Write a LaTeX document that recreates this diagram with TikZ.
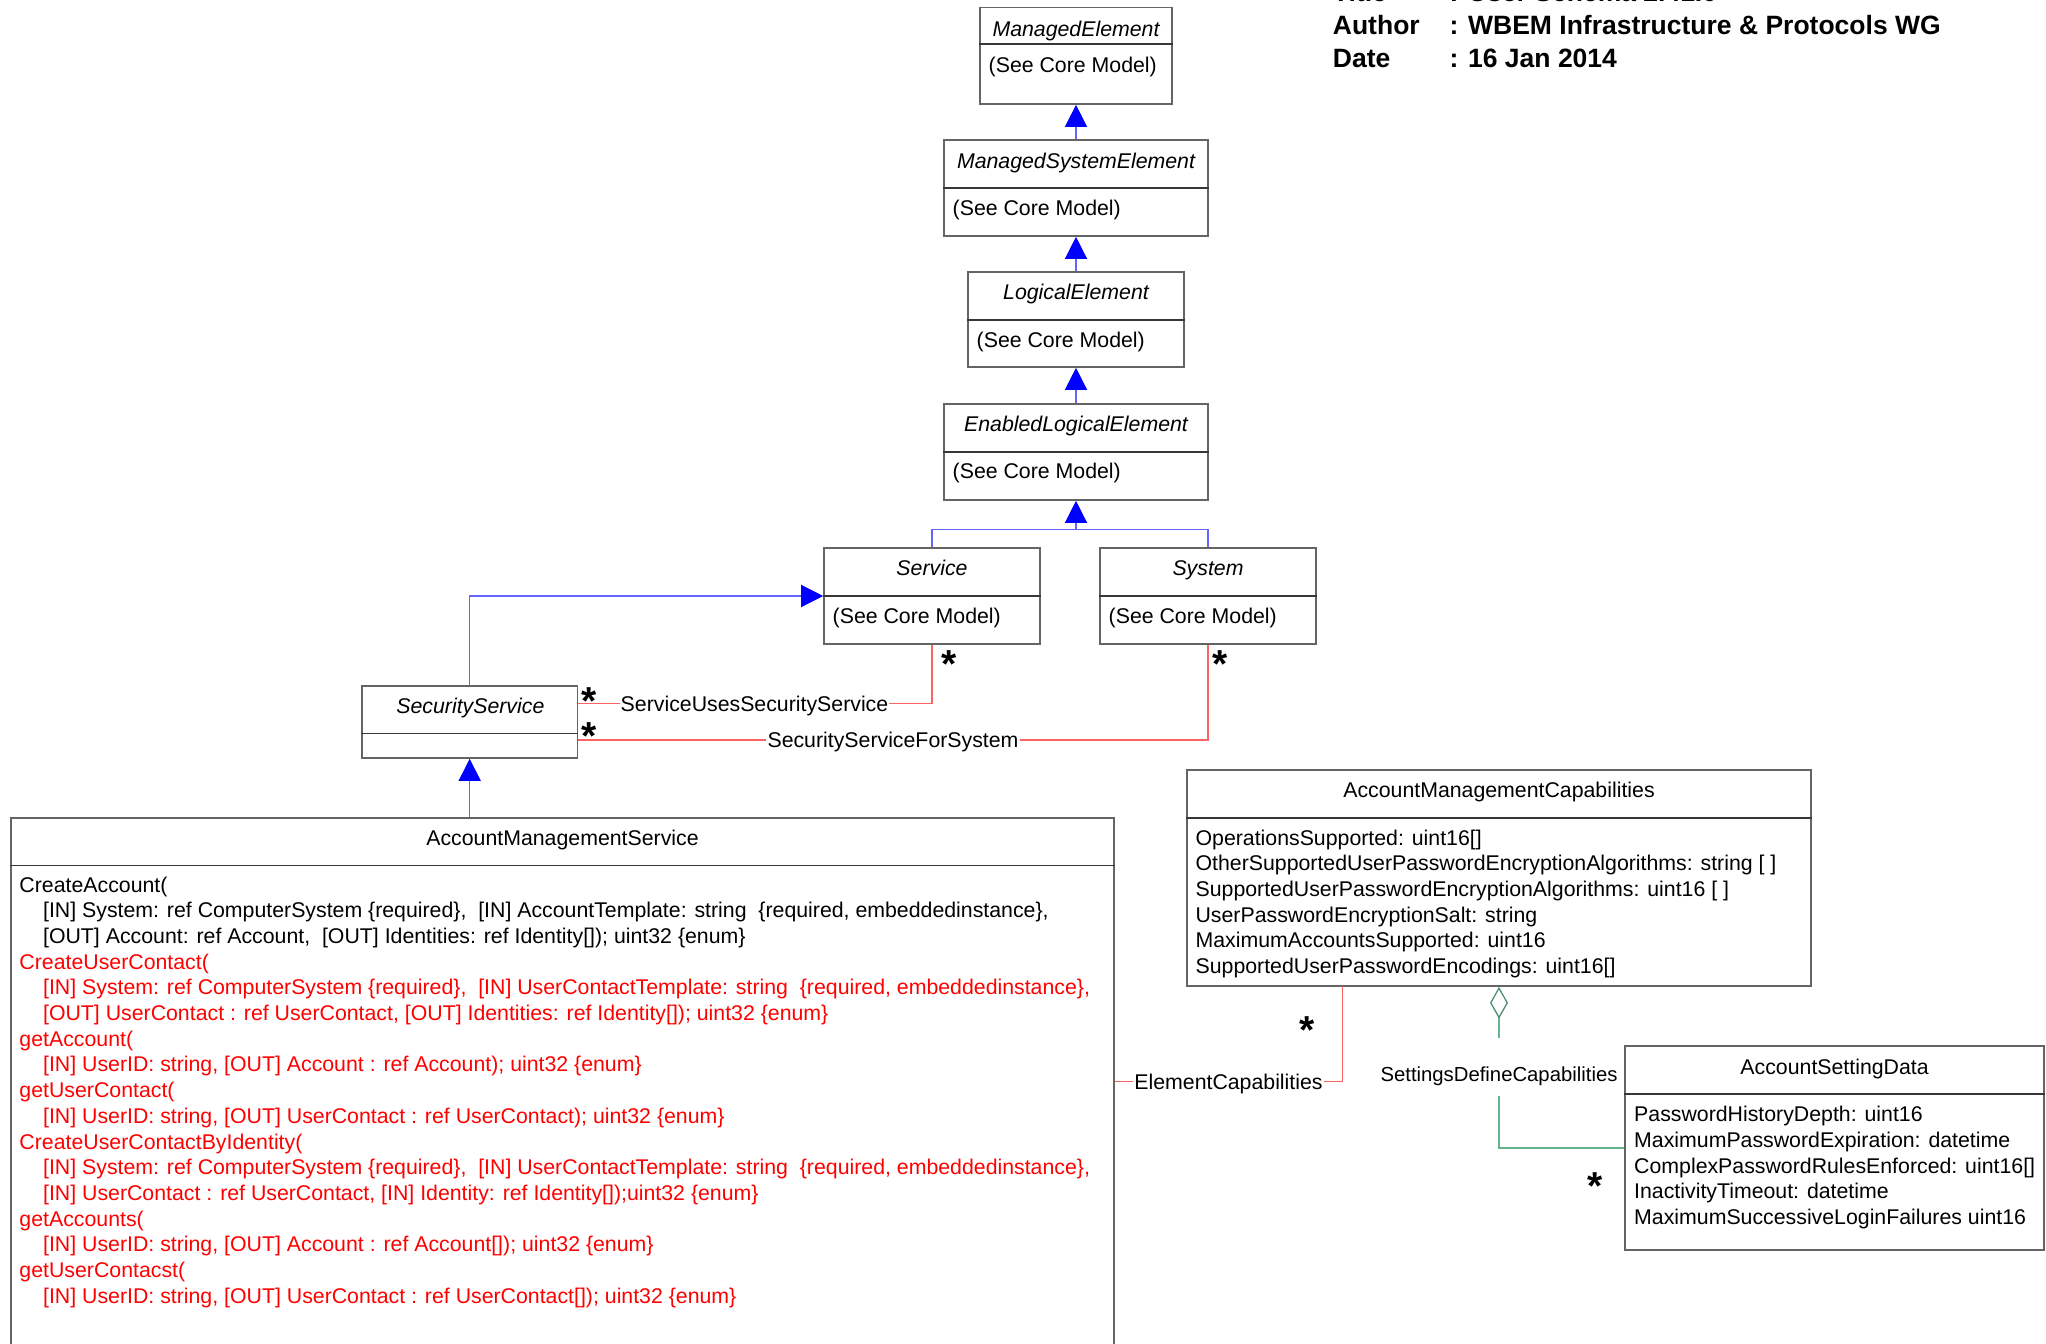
\documentclass[tikz,border=0pt]{standalone}
\usepackage{fontspec}
\setmainfont{Liberation Sans}
\usetikzlibrary{arrows.meta}

\definecolor{boxgray}{RGB}{100,100,100}
\definecolor{divgray}{RGB}{55,55,55}
\definecolor{inhblue}{RGB}{100,100,255}
\definecolor{assocred}{RGB}{250,100,100}
\definecolor{aggrgreen}{RGB}{100,180,140}

\tikzset{
  cls/.style={draw=boxgray, line width=1.6pt, inner sep=0pt},
  divline/.style={draw=divgray, line width=1.6pt},
  txt/.style={inner sep=0pt, font=\fontsize{21.3}{25.7}\selectfont, text height=15pt, text depth=0pt},
  ttl/.style={txt, font=\itshape\fontsize{21.3}{25.7}\selectfont},
  mbr/.style={txt, anchor=west},
  redmbr/.style={mbr, text=red},
  lbl/.style={txt, inner xsep=1pt},
  inhline/.style={draw=inhblue, line width=1.3pt},
  inh/.style={inhline, -{Triangle[length=22pt,width=22pt,color=blue]}},
  assoc/.style={draw=assocred, line width=1.3pt},
  aggr/.style={draw=aggrgreen, line width=1.3pt},
  mult/.style={inner sep=0pt, anchor=base, font=\bfseries\fontsize{39}{39}\selectfont},
  hdr/.style={inner sep=0pt, anchor=base west, font=\bfseries\fontsize{26.5}{32}\selectfont}
}

\begin{document}
\begin{tikzpicture}[x=1pt,y=-1pt]
\fill[white] (0,0) rectangle (2046,1344);
\useasboundingbox (0,0) rectangle (2046,1344);

\node[hdr] (ttlkey) at (1332.7,1.7) {Title};
\node[hdr] (ttlval) at (1449.3,1.7) {: User Schema 2.41.0};
\node[hdr] (autkey) at (1332.7,34.2) {Author};
\node[hdr] (autval) at (1449.3,34.2) {: WBEM Infrastructure \& Protocols WG};
\node[hdr] (datkey) at (1332.7,67) {Date};
\node[hdr] (datval) at (1449.3,67) {: 16 Jan 2014};

\node[cls, minimum width=192pt, minimum height=96.7pt] (me) at (1076,55.7) {};
\draw[divline] (me.west |- 0,43.7) -- (me.east |- 0,43.7);
\node[ttl] (metitle) at (1076,29) {ManagedElement};
\node[mbr] (mebody) at (988.5,65) {(See Core Model)};

\node[cls, minimum width=264pt, minimum height=96pt] (mse) at (1076,188) {};
\draw[divline] (mse.west |- 0,188) -- (mse.east |- 0,188);
\node[ttl] (msetitle) at (1076,161) {ManagedSystemElement};
\node[mbr] (msebody) at (952.5,208) {(See Core Model)};

\node[cls, minimum width=216pt, minimum height=95pt] (le) at (1076,319.5) {};
\draw[divline] (le.west |- 0,320) -- (le.east |- 0,320);
\node[ttl] (letitle) at (1076,292.3) {LogicalElement};
\node[mbr] (lebody) at (976.5,340) {(See Core Model)};

\node[cls, minimum width=264pt, minimum height=96pt] (ele) at (1076,452) {};
\draw[divline] (ele.west |- 0,451.7) -- (ele.east |- 0,451.7);
\node[ttl] (eletitle) at (1076,423.5) {EnabledLogicalElement};
\node[mbr] (elebody) at (952.5,471) {(See Core Model)};

\node[cls, minimum width=216pt, minimum height=96pt] (svc) at (932,596) {};
\draw[divline] (svc.west) -- (svc.east);
\node[ttl] (svctitle) at (932,568) {Service};
\node[mbr] (svcbody) at (832.5,616) {(See Core Model)};

\node[cls, minimum width=216pt, minimum height=96pt] (sys) at (1208,596) {};
\draw[divline] (sys.west) -- (sys.east);
\node[ttl] (systitle) at (1208,568) {System};
\node[mbr] (sysbody) at (1108.5,616) {(See Core Model)};

\node[cls, minimum width=215.7pt, minimum height=72pt] (secsvc) at (469.7,722) {};
\draw[divline] (secsvc.west |- 0,733.5) -- (secsvc.east |- 0,733.5);
\node[ttl] (secsvctitle) at (470.4,706) {SecurityService};

\node[cls, minimum width=1103pt, minimum height=582pt] (ams) at (562.5,1109) {};
\draw[divline] (ams.west |- 0,865.3) -- (ams.east |- 0,865.3);
\node[txt] (amstitle) at (562.5,838) {AccountManagementService};
\node[mbr] (ams1) at (19.3,884.6) {CreateAccount(};
\node[mbr] (ams2) at (42.9,910.3) {[IN] System: ref ComputerSystem \{required\},\ \ [IN] AccountTemplate: string\ \ \{required, embeddedinstance\},};
\node[mbr] (ams3) at (42.9,936.0) {[OUT] Account: ref Account,\ \ [OUT] Identities: ref Identity[]); uint32 \{enum\}};
\node[redmbr] (ams4) at (19.3,961.7) {CreateUserContact(};
\node[redmbr] (ams5) at (42.9,987.4) {[IN] System: ref ComputerSystem \{required\},\ \ [IN] UserContactTemplate: string\ \ \{required, embeddedinstance\},};
\node[redmbr] (ams6) at (42.9,1013.1) {[OUT] UserContact : ref UserContact, [OUT] Identities: ref Identity[]); uint32 \{enum\}};
\node[redmbr] (ams7) at (19.3,1038.7) {getAccount(};
\node[redmbr] (ams8) at (42.9,1064.4) {[IN] UserID: string, [OUT] Account : ref Account); uint32 \{enum\}};
\node[redmbr] (ams9) at (19.3,1090.1) {getUserContact(};
\node[redmbr] (ams10) at (42.9,1115.8) {[IN] UserID: string, [OUT] UserContact : ref UserContact); uint32 \{enum\}};
\node[redmbr] (ams11) at (19.3,1141.5) {CreateUserContactByIdentity(};
\node[redmbr] (ams12) at (42.9,1167.2) {[IN] System: ref ComputerSystem \{required\},\ \ [IN] UserContactTemplate: string\ \ \{required, embeddedinstance\},};
\node[redmbr] (ams13) at (42.9,1192.9) {[IN] UserContact : ref UserContact, [IN] Identity: ref Identity[]);uint32 \{enum\}};
\node[redmbr] (ams14) at (19.3,1218.6) {getAccounts(};
\node[redmbr] (ams15) at (42.9,1244.3) {[IN] UserID: string, [OUT] Account : ref Account[]); uint32 \{enum\}};
\node[redmbr] (ams16) at (19.3,1270.0) {getUserContacst(};
\node[redmbr] (ams17) at (42.9,1295.7) {[IN] UserID: string, [OUT] UserContact : ref UserContact[]); uint32 \{enum\}};

\node[cls, minimum width=624pt, minimum height=216pt] (amc) at (1499,878) {};
\draw[divline] (amc.west |- 0,817.7) -- (amc.east |- 0,817.7);
\node[txt] (amctitle) at (1499,790) {AccountManagementCapabilities};
\node[mbr] (amc1) at (1195.4,837.7) {OperationsSupported: uint16[]};
\node[mbr] (amc2) at (1195.4,863.3) {OtherSupportedUserPasswordEncryptionAlgorithms: string [ ]};
\node[mbr] (amc3) at (1195.4,888.9) {SupportedUserPasswordEncryptionAlgorithms: uint16 [ ]};
\node[mbr] (amc4) at (1195.4,914.5) {UserPasswordEncryptionSalt: string};
\node[mbr] (amc5) at (1195.4,940.1) {MaximumAccountsSupported: uint16};
\node[mbr] (amc6) at (1195.4,965.7) {SupportedUserPasswordEncodings: uint16[]};

\node[cls, minimum width=419pt, minimum height=204pt] (asd) at (1834.5,1148) {};
\draw[divline] (asd.west |- 0,1094) -- (asd.east |- 0,1094);
\node[txt] (asdtitle) at (1834.6,1066.7) {AccountSettingData};
\node[mbr] (asd1) at (1634,1114.3) {PasswordHistoryDepth: uint16};
\node[mbr] (asd2) at (1634,1139.9) {MaximumPasswordExpiration: datetime};
\node[mbr] (asd3) at (1634,1165.5) {ComplexPasswordRulesEnforced: uint16[]};
\node[mbr] (asd4) at (1634,1191.1) {InactivityTimeout: datetime};
\node[mbr] (asd5) at (1634,1216.7) {MaximumSuccessiveLoginFailures uint16};

\draw[inh] (mse.north) -- (me.south);
\draw[inh] (le.north) -- (mse.south);
\draw[inh] (ele.north) -- (le.south);
\coordinate (jn) at (1076,529.5);
\draw[inhline] (svc.north) |- (jn) -| (sys.north);
\draw[inh] (jn) -- (ele.south);
\draw[inh] (secsvc.north) |- (svc.west);
\draw[inh] (ams.north -| secsvc.south) -- (secsvc.south);

\node[lbl] (suss) at (754.5,703.7) {ServiceUsesSecurityService};
\draw[assoc] (secsvc.east |- suss) -- (suss.west);
\draw[assoc] (suss.east) -| (svc.south);
\node[lbl] (ssfs) at (893,740) {SecurityServiceForSystem};
\draw[assoc] (secsvc.east |- ssfs) -- (ssfs.west);
\draw[assoc] (ssfs.east) -| (sys.south);
\node[lbl] (ec) at (1228.5,1081.7) {ElementCapabilities};
\coordinate (amcec) at (1342.5,986);
\draw[assoc] (ams.east |- ec) -- (ec.west);
\draw[assoc] (ec.east) -| (amcec);

\coordinate (sdctop) at (1499,1038);
\coordinate (sdcbot) at (1499,1096);
\node[lbl, font=\fontsize{20.3}{24}\selectfont] (sdc) at (1499,1074) {SettingsDefineCapabilities};
\draw[aggr, {Diamond[open,length=32pt,width=18pt,color=aggrgreen!80!black]}-] (amc.south) -- (sdctop);
\draw[aggr] (sdcbot) |- (asd.west);

\node[mult] (m1) at (949,677) {*};
\node[mult] (m2) at (1219.6,677) {*};
\node[mult] (m3) at (589.3,714.5) {*};
\node[mult] (m4) at (589.3,749.5) {*};
\node[mult] (m5) at (1307,1043) {*};
\node[mult] (m6) at (1594.7,1199.3) {*};
\end{tikzpicture}
\end{document}
